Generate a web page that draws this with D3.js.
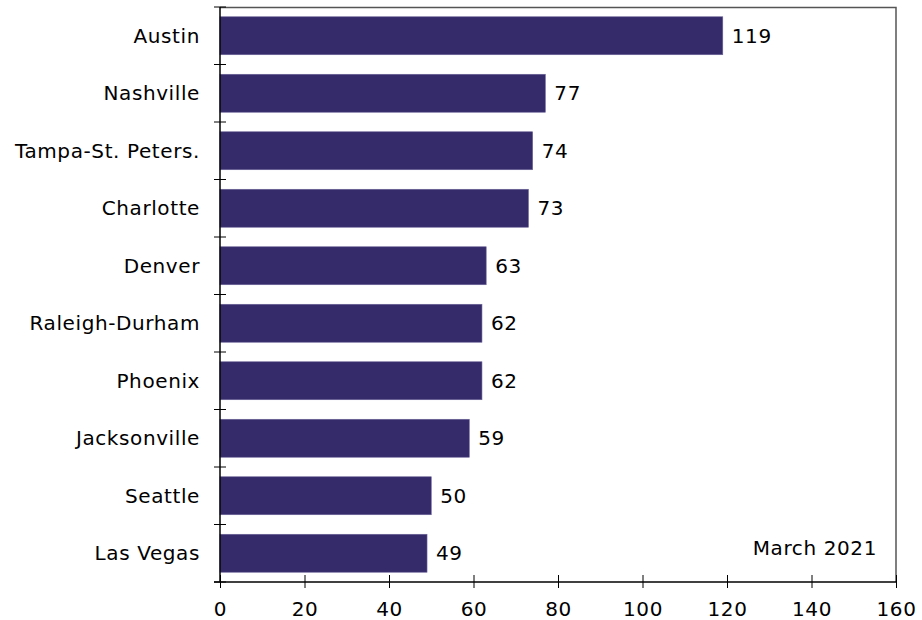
<!DOCTYPE html>
<html>
<head>
<meta charset="utf-8">
<script src="https://cdn.jsdelivr.net/npm/d3@7"></script>
<style>
  body { margin: 0; background: #fff; }
  text { font-family: Verdana, "DejaVu Sans", sans-serif; fill: #000; font-size: 20px; letter-spacing: 0.6px; }
</style>
</head>
<body>
<div id="chart"></div>
<script>
const cities = ['Austin', 'Nashville', 'Tampa-St. Peters.', 'Charlotte', 'Denver',
  'Raleigh-Durham', 'Phoenix', 'Jacksonville', 'Seattle', 'Las Vegas'];
const values = [119, 77, 74, 73, 63, 62, 62, 59, 50, 49];
const xTicks = [0, 20, 40, 60, 80, 100, 120, 140, 160];
const note = 'March 2021';

const W = 922, H = 620;
const margin = { top: 7, right: 26, bottom: 38, left: 220 };
const width = W - margin.left - margin.right;
const height = H - margin.top - margin.bottom;

const svg = d3.select('#chart').append('svg')
  .attr('width', W)
  .attr('height', H);

const g = svg.append('g')
  .attr('transform', `translate(${margin.left},${margin.top})`);

const x = d3.scaleLinear().domain([0, 160]).range([0, width]);
const y = d3.scaleBand().domain(cities).range([0, height]).paddingInner(0.34).paddingOuter(0.17);

// frame (top + right)
g.append('path')
  .attr('d', `M0,0.5H${width}V${height}`)
  .attr('fill', 'none')
  .attr('stroke', '#555')
  .attr('stroke-width', 1.5);

// bars
g.selectAll('rect.bar')
  .data(values)
  .enter().append('rect')
  .attr('class', 'bar')
  .attr('x', 0)
  .attr('y', (d, i) => y(cities[i]))
  .attr('width', d => x(d))
  .attr('height', y.bandwidth())
  .attr('fill', '#362b6a')
  .attr('stroke', '#6a6296')
  .attr('stroke-width', 0.6);

// value labels
g.selectAll('text.val')
  .data(values)
  .enter().append('text')
  .attr('class', 'val')
  .attr('x', d => x(d) + 9)
  .attr('y', (d, i) => y(cities[i]) + y.bandwidth() / 2)
  .attr('dy', '0.36em')
  .text(d => d);

// y axis: line, boundary ticks, labels
const step = y.step();
const bounds = d3.range(cities.length + 1).map(i => i * step);
g.append('line')
  .attr('x1', 0).attr('x2', 0).attr('y1', 0).attr('y2', height)
  .attr('stroke', '#000').attr('stroke-width', 1.5);
g.selectAll('line.ytick')
  .data(bounds)
  .enter().append('line')
  .attr('class', 'ytick')
  .attr('x1', -6).attr('x2', 6)
  .attr('y1', d => d).attr('y2', d => d)
  .attr('stroke', '#000');
g.selectAll('text.ylab')
  .data(cities)
  .enter().append('text')
  .attr('class', 'ylab')
  .attr('x', -20)
  .attr('y', d => y(d) + y.bandwidth() / 2)
  .attr('dy', '0.36em')
  .attr('text-anchor', 'end')
  .text(d => d);

// x axis
const xAxis = g.append('g')
  .attr('transform', `translate(0,${height})`)
  .call(d3.axisBottom(x).tickValues(xTicks).tickSize(0).tickPadding(20));
xAxis.select('.domain').attr('stroke', '#000').attr('stroke-width', 1.5)
  .attr('d', `M-6,0H${width}`);
xAxis.selectAll('.tick').append('line')
  .attr('y1', -7).attr('y2', 6).attr('stroke', '#000');
xAxis.selectAll('.tick text')
  .attr('fill', '#000');
xAxis.attr('font-size', null).attr('font-family', null);

// note
g.append('text')
  .attr('x', x(155.5))
  .attr('y', height - 27)
  .attr('text-anchor', 'end')
  .text(note);
</script>
</body>
</html>
